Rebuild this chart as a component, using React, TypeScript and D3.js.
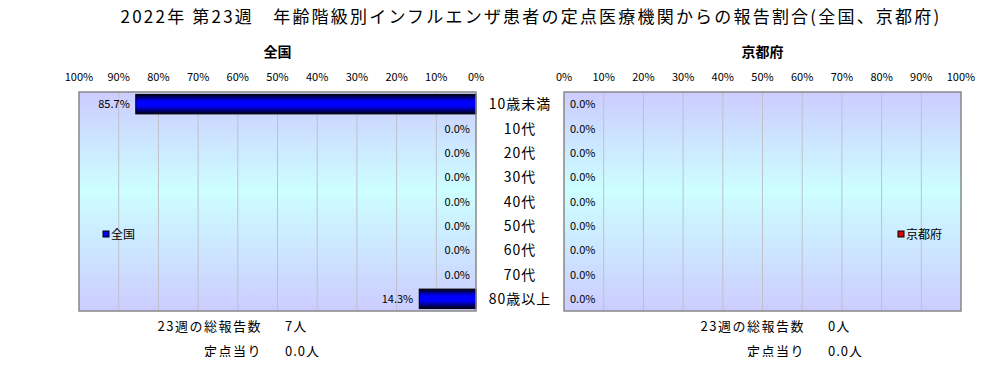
import React from "react"
import * as d3 from "d3"

const categories = ["10歳未満", "10代", "20代", "30代", "40代", "50代", "60代", "70代", "80歳以上"]
const nationalValues = [85.7, 0, 0, 0, 0, 0, 0, 0, 14.3]
const kyotoValues = [0, 0, 0, 0, 0, 0, 0, 0, 0]
const tickValues = [0, 10, 20, 30, 40, 50, 60, 70, 80, 90, 100]

const title = "2022年 第23週　年齢階級別インフルエンザ患者の定点医療機関からの報告割合(全国、京都府)"
const nationalFooter = ["7人", "0.0人"]
const kyotoFooter = ["0人", "0.0人"]
const footerLabels = ["23週の総報告数", "定点当り"]

const W = 1006
const H = 365
const FONT = "'Noto Sans CJK JP', 'Noto Sans', sans-serif"

const plotTop = 92
const plotBottom = 311

const y = d3.scaleBand<string>().domain(categories).range([plotTop, plotBottom]).paddingInner(0.2).paddingOuter(0.1)

interface PanelProps {
  name: string
  values: number[]
  x: d3.ScaleLinear<number, number>
  reversed: boolean
  barColor: string
  legendX: number
  footer: string[]
  footerX: number
}

const Panel: React.FC<PanelProps> = ({ name, values, x, reversed, barColor, legendX, footer, footerX }) => {
  const [r0, r1] = x.range()
  const left = Math.min(r0, r1)
  const right = Math.max(r0, r1)
  const mid = (left + right) / 2
  const gid = reversed ? "bgL" : "bgR"
  return (
    <g>
      <text x={mid} y={57} textAnchor="middle" fontSize={14} fontWeight="bold">
        {name}
      </text>
      {tickValues.map((t) => (
        <text key={t} x={x(t)} y={81} textAnchor="middle" fontSize={11}>
          {t}%
        </text>
      ))}
      <rect x={left} y={plotTop} width={right - left} height={plotBottom - plotTop} fill={`url(#${gid})`} />
      {tickValues
        .filter((t) => t > 0 && t < 100)
        .map((t) => (
          <line key={t} x1={x(t)} x2={x(t)} y1={plotTop} y2={plotBottom} stroke="#c0c0c8" strokeWidth={1} />
        ))}
      {values.map((v, i) => {
        const by = y(categories[i])!
        const bx = Math.min(x(0), x(v))
        const bw = Math.abs(x(v) - x(0))
        return (
          <g key={i}>
            {v > 0 && (
              <rect x={bx} y={by} width={bw} height={y.bandwidth()} fill="url(#barBlue)" stroke="#000" strokeWidth={1} />
            )}
            <text
              x={reversed ? x(v) - 6 : x(v) + 6}
              y={by + y.bandwidth() / 2 + 4}
              textAnchor={reversed ? "end" : "start"}
              fontSize={11}
            >
              {v.toFixed(1)}%
            </text>
          </g>
        )
      })}
      <rect x={left} y={plotTop} width={right - left} height={plotBottom - plotTop} fill="none" stroke="#888" strokeWidth={1.5} />
      <rect x={legendX} y={231} width={6} height={6} fill={barColor} stroke="#000" strokeWidth={1} />
      <text x={legendX + 8} y={239} fontSize={12}>
        {name}
      </text>
      {footerLabels.map((lab, i) => (
        <g key={lab}>
          <text x={footerX} y={331 + i * 25} textAnchor="end" fontSize={13} letterSpacing={1.5}>
            {lab}
          </text>
          <text x={footerX + 23} y={331 + i * 25} fontSize={13} letterSpacing={1}>
            {footer[i]}
          </text>
        </g>
      ))}
    </g>
  )
}

export default function App() {
  const xLeft = d3.scaleLinear().domain([0, 100]).range([476, 79])
  const xRight = d3.scaleLinear().domain([0, 100]).range([564, 961])
  return (
    <div style={{ margin: "-8px", width: W, height: H, overflow: "hidden" }}>
      <svg width={W} height={H} fontFamily={FONT} style={{ display: "block", background: "#fff" }}>
        <defs>
          <linearGradient id="bgL" x1="0" y1="0" x2="0" y2="1">
            <stop offset="0" stopColor="#ccccff" />
            <stop offset="0.45" stopColor="#ccffff" />
            <stop offset="1" stopColor="#ccccff" />
          </linearGradient>
          <linearGradient id="bgR" x1="0" y1="0" x2="0" y2="1">
            <stop offset="0" stopColor="#ccccff" />
            <stop offset="0.45" stopColor="#ccffff" />
            <stop offset="1" stopColor="#ccccff" />
          </linearGradient>
          <linearGradient id="barBlue" x1="0" y1="0" x2="0" y2="1">
            <stop offset="0" stopColor="#000010" />
            <stop offset="0.35" stopColor="#0000ff" />
            <stop offset="0.6" stopColor="#0000ff" />
            <stop offset="1" stopColor="#000018" />
          </linearGradient>
        </defs>
        <line x1={0} x2={W} y1={0.5} y2={0.5} stroke="#d8d8d8" />
        <line x1={0.5} x2={0.5} y1={0} y2={H} stroke="#d8d8d8" />
        <text x={531} y={23} textAnchor="middle" fontSize={17} letterSpacing={2.2}>
          {title}
        </text>
        <Panel name="全国" values={nationalValues} x={xLeft} reversed={true} barColor="#0000ff" legendX={103} footer={nationalFooter} footerX={262} />
        <Panel name="京都府" values={kyotoValues} x={xRight} reversed={false} barColor="#dd0000" legendX={898} footer={kyotoFooter} footerX={805} />
        {categories.map((c) => (
          <text key={c} x={520} y={y(c)! + y.bandwidth() / 2 + 5} textAnchor="middle" fontSize={14} letterSpacing={1}>
            {c}
          </text>
        ))}
      </svg>
    </div>
  )
}
